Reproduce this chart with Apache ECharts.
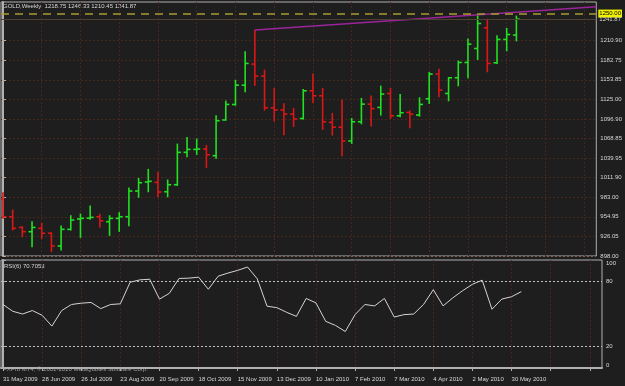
<!DOCTYPE html>
<html><head><meta charset="utf-8">
<script src="https://cdn.jsdelivr.net/npm/echarts@6/dist/echarts.min.js"></script>
<style>html,body{margin:0;padding:0;background:#1e1e1e;}#c{width:625px;height:386px;}</style>
</head><body><div id="c"></div>
<script>
// ---- data (weekly GOLD bars, 31 May 2009 .. 6 Jun 2010) ----
const weekLabels = ['31 May 2009','28 Jun 2009','26 Jul 2009','23 Aug 2009','20 Sep 2009','18 Oct 2009','15 Nov 2009','13 Dec 2009','10 Jan 2010','7 Feb 2010','7 Mar 2010','4 Apr 2010','2 May 2010','30 May 2010'];
const openP  = [980,955,939.5,933.3,938.2,931,912.5,936.7,951.7,953,955,947.8,952.7,955,992.3,1005.4,1004.9,991.3,1001.5,1048.5,1052.8,1053.3,1043.6,1095.5,1118,1146,1176.6,1159.2,1113,1110,1104,1097.7,1137.9,1130.6,1092,1085,1065,1092.9,1118.5,1113.7,1134,1101.6,1106.5,1102.6,1126.3,1162.1,1134,1156.8,1179,1199.3,1229.3,1178.5,1212.4,1218.75];
const highP  = [989.9,964.7,940.5,947.8,945.4,931.8,941.5,956.5,958.9,970.5,958.5,956.5,960.9,996.7,1010.7,1023.8,1019.4,1008.3,1060.5,1070.2,1067.8,1058.6,1101.6,1122.9,1153,1194.5,1225.9,1167.9,1141.3,1119,1112,1139.8,1162.1,1141.3,1105,1124.4,1097.7,1126.8,1130.2,1144.7,1141.3,1132.6,1108.4,1127.7,1164.5,1169.3,1157.2,1181,1212.9,1246.7,1241.9,1217.7,1228.3,1246.33];
const lowP   = [952.7,935.7,926,911.5,923.7,904.3,906.7,935.7,925.1,951.2,939.6,928,933.8,942,983.3,991.3,984,984,1000.5,1042.1,1045.6,1026.7,1039.8,1095.3,1117,1136.4,1146.1,1109.8,1094,1074,1086,1096.8,1121,1082,1073.6,1043.5,1061.5,1090,1086.6,1102.6,1097.7,1100.2,1084.2,1101.1,1119.5,1129.2,1123.4,1145.1,1156.8,1183.4,1165.5,1177.6,1196,1210.45];
const closeP = [955,938.2,933.3,939.5,931,912.5,936.7,950.2,952.7,954.1,949,952.7,955,992.3,1004.4,1006.4,990.9,1001.5,1048.5,1052.8,1053.3,1045,1094.4,1118.1,1146,1177.6,1159.2,1113.2,1110,1104,1097,1137.9,1130.6,1092.9,1085,1065,1092.9,1118.5,1112,1133.1,1101.6,1106,1104,1118.1,1162.1,1138.9,1156.8,1179,1205.6,1235.6,1177.6,1212.4,1219.6,1241.87];
const rsi6   = [58.8,52.5,50,53.2,48.8,38.8,53.2,58.8,60,60.7,55,58.8,59.4,79.4,81.6,82.2,63.8,69.1,82.9,83.2,84.1,72.9,85,87.9,90.4,93.5,82.6,57.2,55.9,51.6,47.8,64.4,60.3,43.2,39.4,33.8,49.4,58.8,57.5,64.4,47.2,49.4,50,58.8,72.5,57.5,65,71.6,77.5,81.3,54.4,63.8,66,70.7053];
const priceTicks = [898.00,926.05,954.95,983.00,1011.90,1039.95,1068.85,1096.90,1125.00,1153.85,1182.75,1210.90];
const rsiTicks = [0,20,80,100];
const rsiLevels = [20,80];
const gridWeeks = [0,4,8,12,16,20,24,28,32,36,40,44,48,52,56,60];
const labelWeeks = [0,4,8,12,16,20,24,28,32,36,40,44,48,52];
const levelPrice = 1250.00;
const bidPrice = 1241.87;
const trendX = [26, 61.25];
const trendY = [1226, 1260];
const headerText = 'GOLD,Weekly  1218.75 1246.33 1210.45 1241.87';
const rsiText = 'RSI(6) 70.7053';
const copyText = 'FXPro MT4, \u00a9 2001-2010 MetaQuotes Software Corp.';

const UP = '#22e022', DOWN = '#dc1616', FRAME = '#b0b0b0', GRIDC = '#47261b', TXT = '#d8d8d8';
const FONT = 'Liberation Sans';
const chart = echarts.init(document.getElementById('c'), null, {renderer:'canvas'});

const bars = openP.map((o,i)=>[i,o,highP[i],lowP[i],closeP[i]]);
const xMin = -0.204, xMax = 61.25;

const xCommon = {
  type:'value', min:xMin, max:xMax,
  splitLine:{show:true, lineStyle:{color:GRIDC, type:[2,2], width:1}},
};
chart.setOption({
  backgroundColor:'#1e1e1e',
  animation:false,
  grid:[
    {left:1, right:23, top:2, bottom:130, show:true, backgroundColor:'#1e1e1e', borderColor:FRAME, borderWidth:1},
    {left:1, right:23, top:260, bottom:18, show:true, backgroundColor:'#1e1e1e', borderColor:FRAME, borderWidth:1}
  ],
  xAxis:[
    Object.assign({}, xCommon, {gridIndex:0, axisLine:{show:false}, axisLabel:{show:false},
      axisTick:{show:false, customValues:gridWeeks}}),
    Object.assign({}, xCommon, {gridIndex:1,
      axisLine:{show:true, lineStyle:{color:FRAME, width:2}},
      axisTick:{show:true, length:3, customValues:gridWeeks, lineStyle:{color:FRAME}},
      axisLabel:{show:true, customValues:labelWeeks, align:'left', margin:8, color:TXT, fontSize:6, fontFamily:FONT,
        formatter:v=>weekLabels[labelWeeks.indexOf(Math.round(v))] || ''}})
  ],
  yAxis:[
    {type:'value', gridIndex:0, position:'right', min:898, max:1266.8,
     axisLine:{show:true, lineStyle:{color:FRAME, width:2}},
     axisTick:{show:true, length:3, customValues:priceTicks, lineStyle:{color:FRAME}},
     axisLabel:{show:true, customValues:priceTicks, margin:4, color:TXT, fontSize:6, fontFamily:FONT, formatter:v=>v.toFixed(2)},
     splitLine:{show:true, lineStyle:{color:GRIDC, type:[2,2], width:1}}},
    {type:'value', gridIndex:1, position:'right', min:0, max:100,
     axisLine:{show:true, lineStyle:{color:FRAME, width:2}},
     axisTick:{show:true, length:3, customValues:rsiTicks, lineStyle:{color:FRAME}},
     axisLabel:{show:true, customValues:rsiTicks, margin:4, color:TXT, fontSize:6, fontFamily:FONT,
       verticalAlignMaxLabel:'top', verticalAlignMinLabel:'bottom'},
     splitLine:{show:false}}
  ],
  series:[
    {type:'custom', xAxisIndex:0, yAxisIndex:0, data:bars, encode:{x:0, y:[1,2,3,4]}, clip:true,
     renderItem:(params, api)=>{
       const x=api.value(0), o=api.value(1), h=api.value(2), l=api.value(3), c=api.value(4);
       const pH=api.coord([x,h]), pL=api.coord([x,l]), pO=api.coord([x,o]), pC=api.coord([x,c]);
       const col = c>=o ? UP : DOWN;
       const st = {stroke:col, lineWidth:1.6};
       const w = 3.5;
       return {type:'group', children:[
         {type:'line', shape:{x1:pH[0], y1:pH[1]-0.5, x2:pL[0], y2:pL[1]+0.5}, style:st},
         {type:'line', shape:{x1:pO[0]-w, y1:pO[1], x2:pO[0], y2:pO[1]}, style:st},
         {type:'line', shape:{x1:pC[0], y1:pC[1], x2:pC[0]+w, y2:pC[1]}, style:st}
       ]};
     }},
    {type:'line', xAxisIndex:0, yAxisIndex:0, data:trendX.map((x,i)=>[x,trendY[i]]), showSymbol:false,
     lineStyle:{color:'#9a249a', width:1.5}, silent:true, z:3,
     markLine:{silent:true, symbol:['none','none'], data:[
       {yAxis:levelPrice, lineStyle:{color:'#a89a32', type:[8,6], width:1.5},
        label:{show:true, position:'end', distance:2, formatter:levelPrice.toFixed(2), color:'#000', backgroundColor:'#f0f000', fontSize:6, fontFamily:FONT, padding:[1,1]}},
       {yAxis:bidPrice, lineStyle:{color:'#4d4030', type:'solid', width:1},
        label:{show:true, position:'end', distance:3, formatter:bidPrice.toFixed(2), color:TXT, fontSize:6, fontFamily:FONT, padding:[2,0,0,0]}}
     ]}},
    {type:'line', xAxisIndex:1, yAxisIndex:1, data:rsi6.map((v,i)=>[i,v]), showSymbol:false,
     lineStyle:{color:'#d4d4d4', width:1}, silent:true,
     markLine:{silent:true, symbol:['none','none'], label:{show:false},
       data:rsiLevels.map(v=>({yAxis:v})), lineStyle:{color:'#c0c0c0', type:[2,2], width:1}}}
  ],
  graphic:[
    {type:'text', left:3, top:3, style:{text:headerText, fill:TXT, font:'6px "Liberation Sans"'}},
    {type:'text', left:4, top:263, style:{text:rsiText, fill:TXT, font:'6px "Liberation Sans"'}},
    {type:'text', left:3, top:366, z:0, style:{text:copyText, fill:'#a0a0a0', font:'6px "Liberation Sans"'}}
  ]
});
</script></body></html>
